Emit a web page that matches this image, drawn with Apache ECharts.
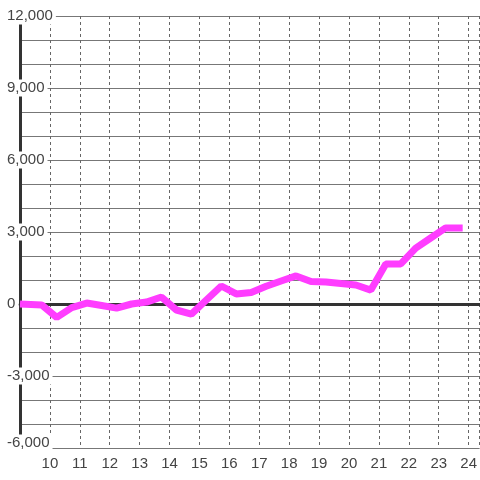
<!DOCTYPE html>
<html>
<head>
<meta charset="utf-8">
<script src="https://cdn.jsdelivr.net/npm/echarts@6/dist/echarts.min.js"></script>
<style>
  html, body { margin: 0; padding: 0; background: #fff; }
  #chart { width: 480px; height: 480px; }
</style>
</head>
<body>
<div id="chart"></div>
<script>
// x positions (month-ish values) and the series values
const xValues = [9.0, 9.73, 10.23, 10.73, 11.23, 11.73, 12.23, 12.73, 13.23, 13.73,
  14.23, 14.73, 15.23, 15.73, 16.23, 16.73, 17.23, 17.73, 18.23, 18.73,
  19.23, 19.73, 20.23, 20.73, 21.23, 21.73, 22.23, 22.73, 23.23, 23.8];
const yValues = [0, -40, -560, -150, 40, -60, -170, 0, 80, 290,
  -250, -420, 165, 750, 420, 480, 740, 960, 1170, 940,
  920, 850, 790, 580, 1670, 1670, 2330, 2750, 3170, 3170];

const xMin = 9, xMax = 24.3667;
const yMin = -6000, yMax = 12000;

const chart = echarts.init(document.getElementById('chart'));

const labelFont = { fontFamily: 'Liberation Sans', fontSize: 15, color: '#444' };

const option = {
  animation: false,
  grid: { left: 20, right: -1, top: 16, bottom: 32, containLabel: false },
  xAxis: [
    {
      type: 'value', min: xMin, max: xMax, interval: 1,
      axisLine: { show: false, onZero: false },
      axisTick: { show: false },
      axisLabel: { ...labelFont, margin: 8, showMinLabel: false, showMaxLabel: false },
      splitLine: { show: true, lineStyle: { color: '#666', type: [3, 3], width: 1 } }
    },
    {
      // zero line only
      type: 'value', min: xMin, max: xMax, position: 'bottom',
      axisLine: { show: true, onZero: true, lineStyle: { color: '#333', width: 3 } },
      axisTick: { show: false },
      axisLabel: { show: false },
      splitLine: { show: false }
    }
  ],
  yAxis: [
    {
      type: 'value', min: yMin, max: yMax, interval: 1000,
      axisLine: { show: true, onZero: false, lineStyle: { color: '#333', width: 3 } },
      axisTick: { show: false },
      axisLabel: { show: false },
      splitLine: { show: true, lineStyle: { color: '#777', width: 1 } }
    },
    {
      type: 'value', min: yMin, max: yMax, interval: 3000, position: 'left', z: 5,
      axisLine: { show: false, onZero: false },
      axisTick: { show: false },
      splitLine: { show: false },
      axisLabel: {
        ...labelFont,
        align: 'left',
        margin: 16,
        formatter: v => v === yMin
          ? '{a|' + v.toLocaleString('en-US') + '}\n{sp| }'
          : '{a|' + v.toLocaleString('en-US') + '}',
        rich: {
          a: { ...labelFont, backgroundColor: '#fff', padding: [1, 3, 1, 3] },
          sp: { fontSize: 1, lineHeight: 10, height: 10 }
        }
      }
    }
  ],
  series: [
    {
      type: 'line',
      xAxisIndex: 0,
      yAxisIndex: 0,
      data: xValues.map((x, i) => [x, yValues[i]]),
      showSymbol: false,
      symbol: 'none',
      lineStyle: { color: '#ff3dff', width: 7 },
      z: 3
    }
  ]
};

chart.setOption(option);
</script>
</body>
</html>
